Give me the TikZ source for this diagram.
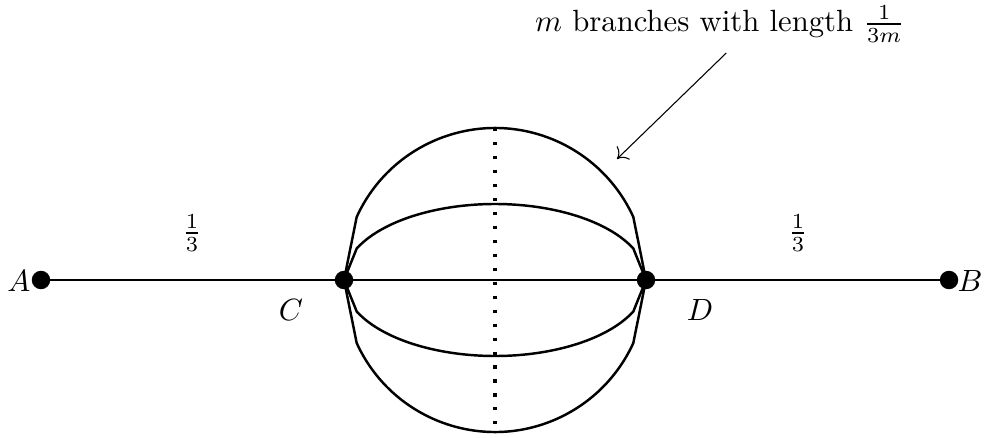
\documentclass[tikz,border=0pt]{standalone}
\usetikzlibrary{arrows.meta}
\begin{document}
\begin{tikzpicture}[x=0.3257pt,y=0.3257pt,
  branch/.style={line width=0.8pt},
  dotnode/.style={circle,fill=black,inner sep=0pt,minimum size=6pt},
  vdots/.style={line width=1pt,dash pattern=on 1pt off 3.55pt},
  pointer/.style={line width=0.35pt,-{To[length=3pt,width=6pt]}}]
\useasboundingbox (0,0) rectangle (984,437);
\coordinate (A) at (41,157);
\coordinate (C) at (344,157);
\coordinate (O) at (495,157);
\coordinate (D) at (646,157);
\coordinate (B) at (949,157);
\coordinate (T) at (495,309);
\coordinate (Bt) at (495,8);
\coordinate (tip) at (617,278);
% main line
\draw[branch] (A) -- (C) -- (D) -- (B);
% outer branches
\draw[branch] (C) -- ([shift={(155.5:152)}]O) arc[start angle=155.5,end angle=24.5,radius=152] -- (D);
\draw[branch] (C) -- ([shift={(204.5:152)}]O) arc[start angle=204.5,end angle=335.5,radius=152] -- (D);
% inner branches
\draw[branch] (C) -- ([shift={(-138.3,31.5)}]O) arc[start angle=155.5,end angle=24.5,x radius=152,y radius=76] -- (D);
\draw[branch] (C) -- ([shift={(-138.3,-31.5)}]O) arc[start angle=204.5,end angle=335.5,x radius=152,y radius=76] -- (D);
% dotted
\draw[vdots] (T) -- (Bt);
% dots
\node[dotnode] (Ad) at (A) {};
\node[dotnode] (Cd) at (C) {};
\node[dotnode] (Dd) at (D) {};
\node[dotnode] (Bd) at (B) {};
% labels
\node (la) at (19,156) {$A$};
\node (lb) at (970,156) {$B$};
\node (lc) at (291,127) {$C$};
\node (ld) at (700,127) {$D$};
\node (f1) at (192,204) {$\frac{1}{3}$};
\node (f2) at (798,204) {$\frac{1}{3}$};
\node (lbl) at (720,413) {$m$ branches with length $\frac{1}{3m}$};
\draw[pointer] ([xshift=2]lbl.south) -- (tip);
\end{tikzpicture}
\end{document}
